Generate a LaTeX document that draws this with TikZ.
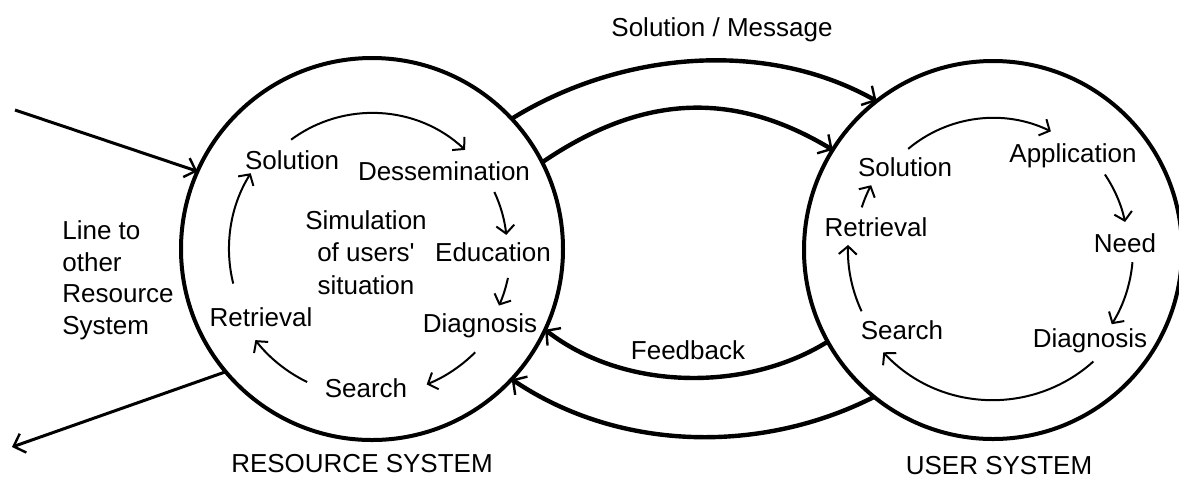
\documentclass[tikz,border=0pt]{standalone}
\usepackage{fontspec}
\setmainfont{Liberation Sans}
\usetikzlibrary{arrows.meta}

\tikzset{
  ring/.style={circle, draw, line width=2pt, inner sep=0pt, outer sep=0pt},
  lbl/.style={font=\fontsize{13}{16.3}\selectfont, inner sep=0pt, anchor=base},
  cyc/.style={line width=1pt, -{Straight Barb[length=4pt,width=9pt]}},
  flow/.style={line width=2.2pt, -{Straight Barb[length=5pt,width=11pt,line width=1.2pt]}},
  link/.style={line width=1.5pt, -{Straight Barb[length=5pt,width=10pt,line width=1.2pt]}}
}

\begin{document}
\begin{tikzpicture}[x=0.5pt,y=-0.5pt]
\useasboundingbox (0,0) rectangle (1179,479);

% the two systems
\node[ring, minimum size=191pt] (rs) at (372,249) {};
\node[ring, minimum size=189pt] (us) at (993,250) {};

% resource system
\node[lbl] (rsol) at (292,169) {Solution};
\node[lbl] (rdes) at (444,180) {Dessemination};
\node[lbl] (redu) at (493,261) {Education};
\node[lbl] (rdia) at (480,332) {Diagnosis};
\node[lbl] (rsea) at (366,397) {Search};
\node[lbl] (rret) at (261,326) {Retrieval};
\node[lbl, anchor=north, align=center] (rsim) at (366,210) {Simulation\\of users\textquotesingle\\situation};
\node[lbl] (rname) at (362,472) {RESOURCE SYSTEM};

\draw[cyc] (rs.center) ++(-126.5:136) arc[start angle=-126.5, end angle=-46.8, radius=136];
\draw[cyc] (rs.center) ++(-25:135) arc[start angle=-25, end angle=-6, radius=135];
\draw[cyc] (rs.center) ++(12:139) arc[start angle=12, end angle=24, radius=139];
\draw[cyc] (rs.center) ++(45:146) arc[start angle=45, end angle=68, radius=146];
\draw[cyc] (rs.center) ++(116:148) arc[start angle=116, end angle=142, radius=148];
\draw[cyc] (rs.center) ++(166:143) arc[start angle=166, end angle=212, radius=143];

% user system
\node[lbl] (usol) at (905,176) {Solution};
\node[lbl] (uapp) at (1073,162) {Application};
\node[lbl] (uret) at (876,236) {Retrieval};
\node[lbl] (uneed) at (1125,252) {Need};
\node[lbl] (usea) at (902,339) {Search};
\node[lbl] (udia) at (1090,347) {Diagnosis};
\node[lbl] (uname) at (999,474) {USER SYSTEM};

\draw[cyc] (us.center) ++(-130:132) arc[start angle=-130, end angle=-64, radius=132];
\draw[cyc] (us.center) ++(-34:135) arc[start angle=-34, end angle=-12, radius=135];
\draw[cyc] (us.center) ++(5:140) arc[start angle=5, end angle=32, radius=140];
\draw[cyc] (us.center) ++(48:150) arc[start angle=48, end angle=137, radius=150];
\draw[cyc] (us.center) ++(155:145) arc[start angle=155, end angle=182, radius=145];
\draw[cyc] (us.center) ++(198:138) arc[start angle=198, end angle=208, radius=138];

% between the systems
\node[lbl] (msg) at (722,36) {Solution / Message};
\node[lbl] (fb) at (688,359) {Feedback};
\draw[flow] (rs.43) .. controls +(110,-68) and +(-110,-62) .. (us.128);
\draw[flow] (rs.27.5) .. controls +(100,-68) and +(-100,-60) .. (us.148.5);
\draw[flow] (us.209) .. controls +(-80,50) and +(80,62) .. (rs.335);
\draw[flow] (us.231.3) .. controls +(-110,56) and +(110,74) .. (rs.317.5);

% other resource systems
\node[lbl, anchor=north west, align=left, font=\fontsize{13}{15.9}\selectfont] (other) at (62,220) {Line to\\other\\Resource\\System};
\coordinate (inA) at (15,110);
\coordinate (outA) at (12,447);
\draw[link] (inA) -- (rs.156);
\draw[link] (rs.220) -- (outA);
\end{tikzpicture}
\end{document}
